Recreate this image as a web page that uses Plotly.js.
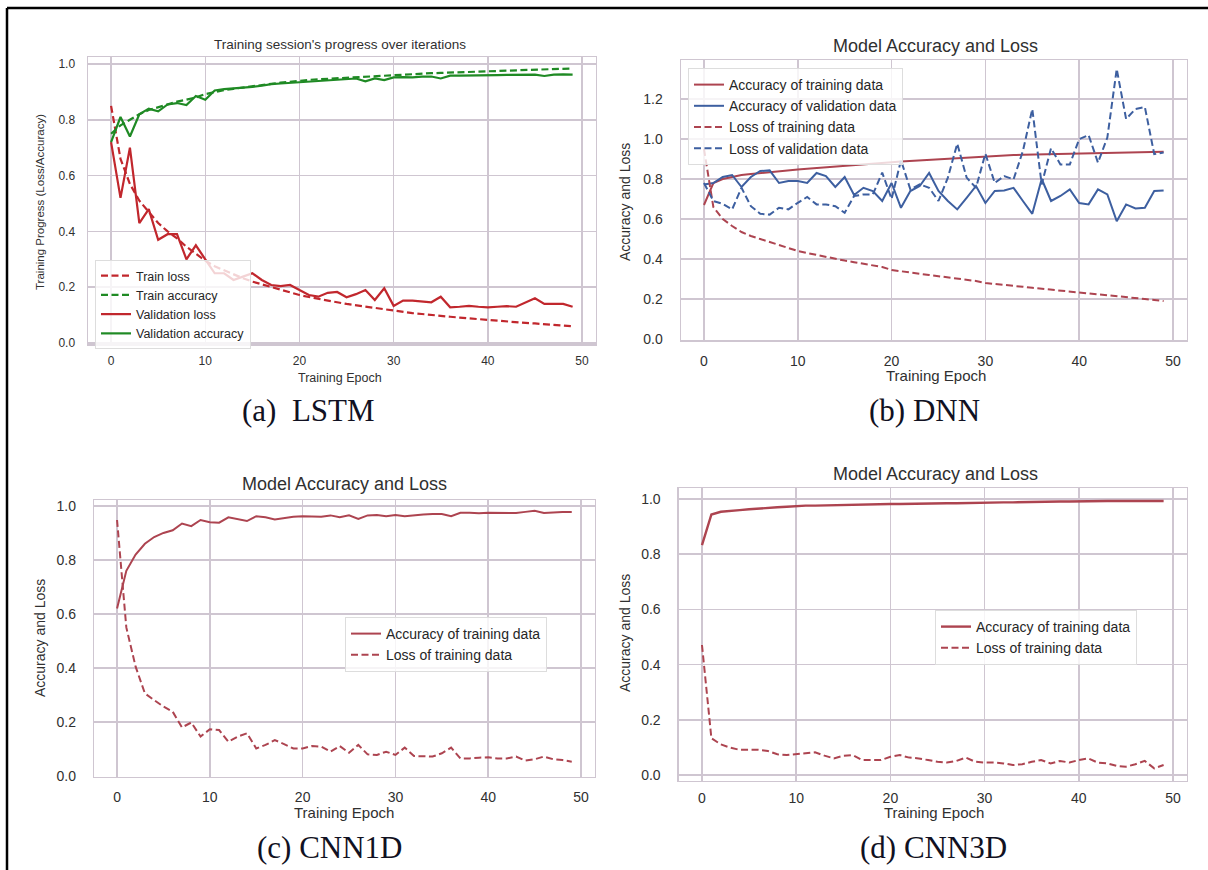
<!DOCTYPE html>
<html>
<head>
<meta charset="utf-8">
<script src="https://cdn.plot.ly/plotly-3.0.1.min.js"></script>
<style>html,body{margin:0;padding:0;background:#fff;overflow:hidden;}#chart{width:1208px;height:870px;}</style>
</head>
<body>
<div id="chart"></div>
<script>
// ---------- data ----------
const epochs = [0,1,2,3,4,5,6,7,8,9,10,11,12,13,14,15,16,17,18,19,20,21,22,23,24,25,26,27,28,29,30,31,32,33,34,35,36,37,38,39,40,41,42,43,44,45,46,47,48,49];

// (a) LSTM
const lstmTrainLoss = [0.85,0.66,0.57,0.51,0.47,0.43,0.40,0.375,0.345,0.32,0.295,0.275,0.26,0.245,0.232,0.22,0.21,0.2,0.19,0.18,0.172,0.165,0.158,0.152,0.146,0.14,0.135,0.13,0.125,0.12,0.115,0.111,0.107,0.104,0.1,0.097,0.094,0.091,0.088,0.085,0.082,0.08,0.077,0.075,0.072,0.07,0.068,0.065,0.063,0.06];
const lstmTrainAcc = [0.75,0.78,0.80,0.82,0.835,0.845,0.855,0.865,0.872,0.88,0.892,0.9,0.906,0.911,0.916,0.92,0.925,0.929,0.933,0.937,0.94,0.943,0.945,0.947,0.949,0.951,0.953,0.955,0.957,0.959,0.961,0.963,0.964,0.965,0.967,0.968,0.969,0.97,0.972,0.973,0.975,0.976,0.977,0.978,0.979,0.98,0.981,0.982,0.983,0.984];
const lstmValLoss = [0.72,0.52,0.70,0.43,0.48,0.37,0.39,0.39,0.30,0.35,0.30,0.25,0.25,0.226,0.238,0.25,0.226,0.208,0.204,0.208,0.19,0.172,0.166,0.18,0.183,0.164,0.175,0.19,0.154,0.196,0.133,0.152,0.152,0.148,0.146,0.166,0.128,0.13,0.133,0.13,0.128,0.13,0.132,0.13,0.145,0.16,0.14,0.14,0.14,0.13];
const lstmValAcc = [0.72,0.81,0.74,0.82,0.84,0.83,0.855,0.86,0.853,0.885,0.872,0.905,0.91,0.912,0.914,0.918,0.922,0.928,0.93,0.932,0.935,0.937,0.94,0.942,0.943,0.945,0.948,0.938,0.948,0.942,0.952,0.953,0.952,0.955,0.955,0.948,0.958,0.958,0.958,0.96,0.96,0.96,0.961,0.962,0.962,0.962,0.957,0.962,0.963,0.962];

// (b) DNN
const dnnTrainAcc = [0.67,0.78,0.80,0.81,0.82,0.825,0.83,0.835,0.84,0.843,0.847,0.851,0.855,0.858,0.862,0.865,0.869,0.872,0.876,0.88,0.884,0.887,0.89,0.893,0.896,0.899,0.902,0.905,0.908,0.911,0.914,0.916,0.918,0.92,0.921,0.922,0.923,0.924,0.925,0.926,0.927,0.928,0.929,0.93,0.931,0.932,0.933,0.934,0.935,0.936];
const dnnValAcc = [0.773,0.78,0.81,0.82,0.76,0.81,0.84,0.843,0.78,0.79,0.79,0.78,0.83,0.815,0.76,0.81,0.72,0.756,0.74,0.69,0.78,0.656,0.74,0.765,0.83,0.74,0.69,0.648,0.706,0.765,0.68,0.74,0.743,0.756,0.69,0.626,0.80,0.69,0.715,0.748,0.68,0.673,0.748,0.723,0.589,0.673,0.653,0.656,0.74,0.743];
const dnnTrainLoss = [0.95,0.66,0.60,0.565,0.535,0.515,0.50,0.485,0.47,0.455,0.44,0.43,0.42,0.41,0.40,0.392,0.384,0.376,0.368,0.36,0.345,0.338,0.332,0.326,0.32,0.314,0.308,0.302,0.296,0.29,0.28,0.276,0.271,0.266,0.261,0.256,0.251,0.246,0.241,0.236,0.23,0.227,0.223,0.219,0.215,0.21,0.205,0.2,0.195,0.19];
const dnnValLoss = [0.78,0.69,0.676,0.648,0.756,0.664,0.626,0.622,0.656,0.648,0.681,0.71,0.673,0.673,0.664,0.631,0.715,0.723,0.723,0.832,0.70,0.894,0.748,0.773,0.756,0.69,0.807,0.977,0.807,0.756,0.927,0.78,0.815,0.798,0.94,1.15,0.773,0.954,0.873,0.873,0.999,1.02,0.882,1.007,1.35,1.10,1.15,1.16,0.924,0.932];

// (c) CNN1D
const cnn1Acc = [0.62,0.76,0.82,0.86,0.885,0.9,0.91,0.935,0.925,0.948,0.94,0.938,0.958,0.95,0.944,0.962,0.958,0.95,0.955,0.96,0.962,0.962,0.96,0.965,0.958,0.965,0.952,0.965,0.966,0.962,0.966,0.962,0.966,0.968,0.97,0.97,0.962,0.975,0.975,0.973,0.975,0.975,0.976,0.974,0.978,0.982,0.974,0.977,0.978,0.978];
const cnn1Loss = [0.948,0.55,0.405,0.306,0.281,0.257,0.238,0.18,0.198,0.146,0.173,0.17,0.127,0.146,0.158,0.102,0.115,0.133,0.118,0.102,0.102,0.111,0.109,0.09,0.111,0.086,0.115,0.08,0.078,0.09,0.078,0.105,0.074,0.074,0.072,0.084,0.105,0.065,0.065,0.068,0.069,0.065,0.065,0.072,0.057,0.062,0.072,0.062,0.059,0.053];

// (d) CNN3D
const cnn3Acc = [0.833,0.944,0.954,0.958,0.96,0.963,0.966,0.968,0.97,0.972,0.975,0.976,0.976,0.977,0.978,0.978,0.979,0.979,0.98,0.981,0.982,0.982,0.983,0.983,0.984,0.984,0.985,0.985,0.986,0.986,0.987,0.987,0.988,0.988,0.989,0.989,0.99,0.99,0.991,0.991,0.992,0.992,0.992,0.993,0.993,0.993,0.993,0.993,0.993,0.993];
const cnn3Loss = [0.471,0.133,0.111,0.099,0.091,0.091,0.091,0.087,0.075,0.072,0.075,0.078,0.082,0.07,0.06,0.07,0.072,0.054,0.054,0.054,0.066,0.072,0.063,0.06,0.054,0.048,0.045,0.051,0.063,0.048,0.045,0.045,0.042,0.036,0.039,0.048,0.054,0.042,0.051,0.045,0.054,0.06,0.045,0.042,0.033,0.03,0.039,0.051,0.024,0.036];

const xTicks = [0,10,20,30,40,50];

// ---------- styling helpers ----------
const W = 1208, H = 870;
const px = v => v / W;
const py = v => 1 - v / H;
const GRID = '#cfc6d1';
const TXT = '#303030';
const RED_L = '#c1272d', GREEN_L = '#1f8a24';
const RED = '#ad4450', BLUE = '#3d5fa0';
const FONT = 'Liberation Sans, Arial, sans-serif';

function xa(left, right, anchor, tsize, tlen) {
  return {domain:[px(left), px(right)], anchor:anchor, range:[-2.45, 51.45],
    tickvals:xTicks, showgrid:true, gridcolor:GRID, gridwidth:1.5, zeroline:false,
    showline:true, mirror:true, linecolor:GRID, linewidth:1.5,
    ticks:'outside', ticklen:tlen, tickcolor:'rgba(0,0,0,0)',
    tickfont:{size:tsize, color:TXT, family:FONT}};
}
function ya(top, bottom, anchor, range, dtick, tsize, tlen) {
  return {domain:[py(bottom), py(top)], anchor:anchor, range:range, dtick:dtick, tick0:0,
    tickformat:'.1f', showgrid:true, gridcolor:GRID, gridwidth:1.5, zeroline:false,
    showline:true, mirror:true, linecolor:GRID, linewidth:1.5,
    ticks:'outside', ticklen:tlen, tickcolor:'rgba(0,0,0,0)',
    tickfont:{size:tsize, color:TXT, family:FONT}};
}
function tr(y, name, color, dash, xax, yax, leg, w) {
  return {x:epochs, y:y, name:name, type:'scatter', mode:'lines', xaxis:xax, yaxis:yax,
    legend:leg, line:{color:color, width:w||2, dash:dash ? '7px,3.5px' : 'solid'}};
}

const data = [
  tr(lstmTrainLoss, 'Train loss', RED_L, true, 'x', 'y', 'legend', 2.2),
  tr(lstmTrainAcc, 'Train accuracy', GREEN_L, true, 'x', 'y', 'legend', 2.2),
  tr(lstmValLoss, 'Validation loss', RED_L, false, 'x', 'y', 'legend', 2.2),
  tr(lstmValAcc, 'Validation accuracy', GREEN_L, false, 'x', 'y', 'legend', 2.2),

  tr(dnnTrainAcc, 'Accuracy of training data', RED, false, 'x2', 'y2', 'legend2', 2),
  tr(dnnValAcc, 'Accuracy of validation data', BLUE, false, 'x2', 'y2', 'legend2', 2),
  tr(dnnTrainLoss, 'Loss of training data', RED, true, 'x2', 'y2', 'legend2', 2),
  tr(dnnValLoss, 'Loss of validation data', BLUE, true, 'x2', 'y2', 'legend2', 2),

  tr(cnn1Acc, 'Accuracy of training data', RED, false, 'x3', 'y3', 'legend3', 2),
  tr(cnn1Loss, 'Loss of training data', RED, true, 'x3', 'y3', 'legend3', 2),

  tr(cnn3Acc, 'Accuracy of training data', RED, false, 'x4', 'y4', 'legend4', 2.4),
  tr(cnn3Loss, 'Loss of training data', RED, true, 'x4', 'y4', 'legend4', 2)
];

function leg(x, y, size) {
  return {x:px(x), y:py(y), xanchor:'left', yanchor:'top', bgcolor:'rgba(255,255,255,0.8)',
    bordercolor:'#dddddd', borderwidth:1, font:{size:size, color:'#262626', family:FONT},
    tracegroupgap:0};
}
function ann(text, x, y, size, opts) {
  return Object.assign({text:text, x:px(x), y:py(y), xref:'paper', yref:'paper',
    showarrow:false, xanchor:'center', yanchor:'middle',
    font:{size:size, color:TXT, family:FONT}}, opts || {});
}
const SERIF = {family:'Liberation Serif, Times New Roman, serif', color:'#111122'};

const layout = {
  width:W, height:H, margin:{l:0, r:0, t:0, b:0},
  paper_bgcolor:'#ffffff', plot_bgcolor:'#ffffff', showlegend:true,
  xaxis: xa(88, 595.7, 'y', 12, 5),
  yaxis: ya(57, 344.4, 'x', [-0.005, 1.025], 0.2, 12, 9),
  xaxis2: xa(681, 1186.6, 'y2', 14, 8),
  yaxis2: ya(60, 340, 'x2', [-0.005, 1.395], 0.2, 14, 14),
  xaxis3: xa(94.3, 594.5, 'y3', 14, 7),
  yaxis3: ya(500, 776.8, 'x3', [-0.003, 1.022], 0.2, 14, 14),
  xaxis4: xa(678.9, 1186.7, 'y4', 14, 4),
  yaxis4: ya(488, 780.5, 'x4', [-0.02, 1.04], 0.2, 14, 14),
  legend: leg(95, 260, 12.5),
  legend2: leg(688, 68, 14),
  legend3: leg(345, 617, 14),
  legend4: leg(935, 610, 14),
  annotations: [
    ann("Training session's progress over iterations", 340, 44, 13.5),
    ann('Model Accuracy and Loss', 935, 46, 18),
    ann('Model Accuracy and Loss', 344, 484, 18),
    ann('Model Accuracy and Loss', 935, 474, 18),
    ann('Training Epoch', 340, 378, 12.5),
    ann('Training Epoch', 936, 375, 15),
    ann('Training Epoch', 344, 812, 15),
    ann('Training Epoch', 934, 812, 15),
    ann('Training Progress (Loss/Accuracy)', 40, 202, 11.5, {textangle:-90}),
    ann('Accuracy and Loss', 625, 202, 14, {textangle:-90}),
    ann('Accuracy and Loss', 40, 638, 14, {textangle:-90}),
    ann('Accuracy and Loss', 625, 633, 14, {textangle:-90}),
    ann('(a)  LSTM', 308, 410, 31, {font:Object.assign({size:31}, SERIF)}),
    ann('(b) DNN', 924, 410, 31, {font:Object.assign({size:31}, SERIF)}),
    ann('(c) CNN1D', 330, 847, 31, {font:Object.assign({size:31}, SERIF)}),
    ann('(d) CNN3D', 933, 847, 31, {font:Object.assign({size:31}, SERIF)})
  ],
  shapes: [
    {type:'line', xref:'paper', yref:'paper', x0:px(7), x1:px(1212), y0:py(8), y1:py(8), line:{color:'#000', width:2.5}},
    {type:'line', xref:'paper', yref:'paper', x0:px(7), x1:px(7), y0:py(8), y1:py(875), line:{color:'#000', width:2.5}}
  ]
};

Plotly.newPlot('chart', data, layout, {displayModeBar:false, staticPlot:true});
</script>
</body>
</html>
